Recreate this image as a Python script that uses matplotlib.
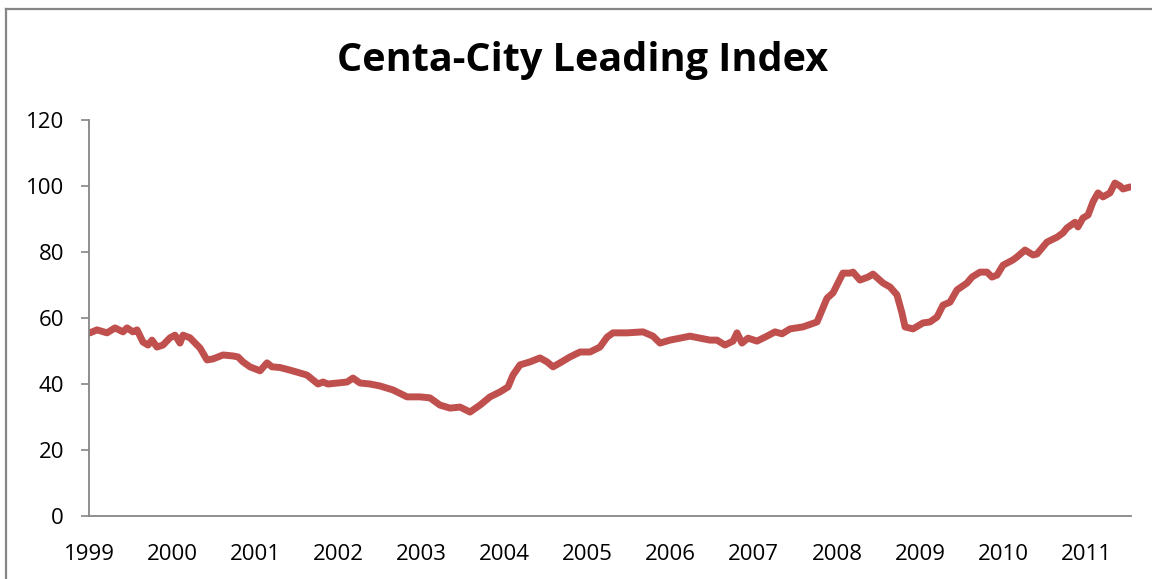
import matplotlib
import matplotlib.pyplot as plt
from matplotlib.lines import Line2D

matplotlib.use('Agg')

# x positions in years (label "1999" sits at 1999.0)
years = [
    0.012, 0.096, 0.217, 0.313, 0.409, 0.457, 0.529, 0.578, 0.650, 0.710,
    0.758, 0.818, 0.890, 0.975, 1.035, 1.095, 1.131, 1.215, 1.336, 1.420,
    1.492, 1.613, 1.733, 1.793, 1.853, 1.937, 2.058, 2.142, 2.202, 2.298,
    2.419, 2.503, 2.623, 2.756, 2.816, 2.876, 2.985, 3.105, 3.177, 3.261,
    3.382, 3.502, 3.658, 3.827, 3.983, 4.103, 4.224, 4.344, 4.465, 4.585,
    4.705, 4.826, 4.946, 5.042, 5.102, 5.187, 5.307, 5.427, 5.512, 5.584,
    5.668, 5.788, 5.909, 6.029, 6.149, 6.234, 6.306, 6.474, 6.667, 6.787,
    6.871, 6.992, 7.112, 7.232, 7.353, 7.473, 7.557, 7.653, 7.750, 7.798,
    7.858, 7.930, 8.038, 8.159, 8.255, 8.339, 8.436, 8.592, 8.761, 8.881,
    8.953, 9.073, 9.158, 9.194, 9.278, 9.374, 9.435, 9.555, 9.639, 9.723,
    9.783, 9.820, 9.916, 10.036, 10.120, 10.205, 10.277, 10.361, 10.445, 10.566,
    10.626, 10.722, 10.806, 10.866, 10.927, 10.999, 11.119, 11.167, 11.264, 11.360,
    11.408, 11.528, 11.649, 11.721, 11.769, 11.865, 11.901, 11.961, 12.022, 12.082,
    12.142, 12.202, 12.286, 12.346, 12.407, 12.443, 12.527,
]
index_values = [
    55.5, 56.4, 55.5, 57.0, 55.8, 57.0, 55.8, 56.4, 52.7, 51.8,
    53.3, 51.2, 51.8, 54.0, 54.8, 52.4, 54.8, 54.0, 50.9, 47.3,
    47.6, 48.8, 48.5, 48.2, 46.7, 45.2, 44.0, 46.4, 45.2, 45.0,
    44.2, 43.6, 42.7, 40.0, 40.6, 40.0, 40.3, 40.6, 41.8, 40.3,
    40.0, 39.4, 38.2, 36.1, 36.1, 35.8, 33.6, 32.7, 33.0, 31.5,
    33.6, 36.1, 37.6, 39.1, 42.7, 45.8, 46.7, 47.9, 46.7, 45.2,
    46.4, 48.2, 49.7, 49.7, 51.2, 54.2, 55.5, 55.5, 55.8, 54.5,
    52.4, 53.3, 53.9, 54.5, 53.9, 53.3, 53.3, 51.8, 53.0, 55.5,
    52.4, 53.9, 53.0, 54.5, 55.8, 55.2, 56.7, 57.3, 58.8, 66.0,
    67.6, 73.6, 73.6, 73.9, 71.5, 72.4, 73.3, 70.6, 69.4, 67.0,
    61.5, 57.3, 56.7, 58.5, 58.8, 60.3, 63.9, 64.8, 68.5, 70.6,
    72.4, 73.9, 73.9, 72.4, 73.0, 76.0, 77.6, 78.5, 80.6, 79.1,
    79.4, 83.0, 84.5, 85.8, 87.3, 89.0, 87.6, 90.3, 91.2, 95.2,
    97.9, 96.7, 97.9, 100.9, 100.0, 99.1, 99.7,
]
year_labels = [str(y) for y in range(1999, 2012)]
y_ticks = [0, 20, 40, 60, 80, 100, 120]

plt.rcParams['font.family'] = ['Open Sans', 'DejaVu Sans']

fig = plt.figure(figsize=(11.52, 5.79), dpi=100)
ax = fig.add_axes([89 / 1152, 1 - 516 / 579, (1131 - 89) / 1152, (516 - 120) / 579])

xs = [1999 + v for v in years]
ax.plot(xs, index_values, color='#C0504D', linewidth=5, solid_capstyle='round',
        solid_joinstyle='round')

ax.set_xlim(1999, 1999 + (1131 - 89) / 83.1)
ax.set_ylim(0, 120)
ax.set_yticks(y_ticks)
ax.set_xticks(range(1999, 2012))
ax.set_xticklabels(year_labels)

for side in ['top', 'right']:
    ax.spines[side].set_visible(False)
for side in ['left', 'bottom']:
    ax.spines[side].set_color('#868686')
    ax.spines[side].set_linewidth(1.3)

ax.tick_params(axis='y', direction='out', length=6, width=1.2, color='#868686',
               labelsize=16, pad=12)
ax.tick_params(axis='x', length=0, labelsize=16, pad=20)

fig.text(583 / 1152, 1 - 61 / 579, 'Centa-City Leading Index', ha='center', va='center',
         fontsize=28.5, fontweight='bold')

# chart frame (partly cropped in the original)
fig.add_artist(Line2D([6 / 1152, 1], [1 - 9 / 579] * 2, transform=fig.transFigure,
                      color='#868686', linewidth=1.6))
fig.add_artist(Line2D([6 / 1152] * 2, [0, 1 - 9 / 579], transform=fig.transFigure,
                      color='#868686', linewidth=1.6))

fig.savefig('out.png', dpi=100)
